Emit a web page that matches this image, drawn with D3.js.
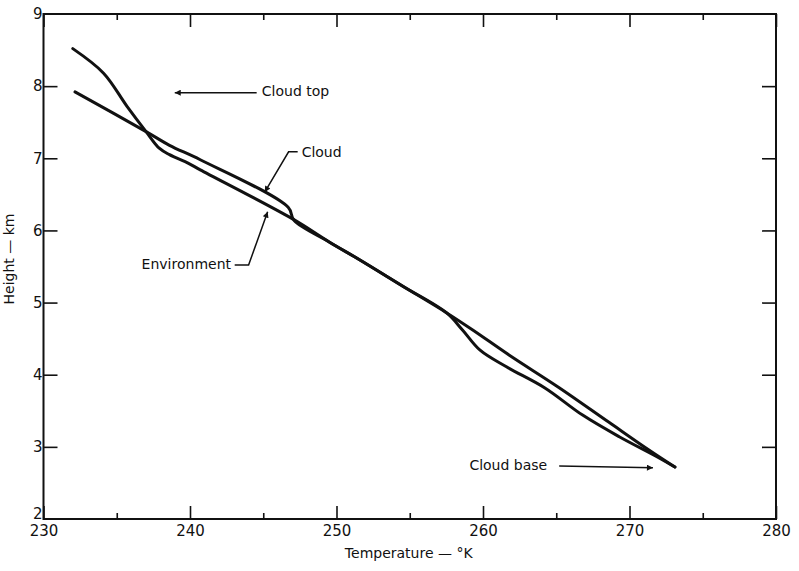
<!DOCTYPE html>
<html><head><meta charset="utf-8">
<script src="https://cdn.jsdelivr.net/npm/d3@7"></script>
<style>
html,body{margin:0;padding:0;background:#fff;}
text{font-family:"DejaVu Sans",sans-serif;fill:#111;}
</style>
</head><body>
<svg id="chart" width="799" height="571"></svg>
<script>
// ---- data ----
const envT   = [232.0, 234.1, 235.7, 237.0, 237.9, 238.6, 239.9, 240.7, 247.0, 249.5, 251.6, 254.5, 257.5, 258.6, 259.8, 261.6, 264.2, 266.8, 269.3, 271.9, 273.1];
const envH   = [8.52, 8.18, 7.72, 7.37, 7.14, 7.05, 6.93, 6.84, 6.16, 5.84, 5.59, 5.23, 4.86, 4.62, 4.34, 4.11, 3.82, 3.44, 3.14, 2.86, 2.72];
const cloudT = [232.15, 237.0, 238.6, 240.7, 246.7, 247.1, 249.5, 251.6, 254.5, 257.5, 259.3, 261.8, 265.2, 268.6, 271.3, 273.1];
const cloudH = [7.92, 7.37, 7.18, 6.98, 6.32, 6.14, 5.84, 5.59, 5.23, 4.86, 4.62, 4.27, 3.82, 3.34, 2.96, 2.72];
const xTicks = [230, 240, 250, 260, 270, 280];
const xMinorTicks = [235, 245, 255, 265, 275];
const yTicks = [2, 3, 4, 5, 6, 7, 8, 9];
const xTitle = "Temperature — °K";
const yTitle = "Height — km";
// annotations: label, text anchor point [T,H], anchor side, leader path in data coords (last point = arrow tip)
const annLabels = ["Cloud top", "Cloud", "Environment", "Cloud base"];
const annText   = [[244.9, 7.93], [247.62, 7.09], [242.8, 5.53], [259.07, 2.75]];
const annAnchor = ["start", "start", "end", "start"];
const annPaths  = [
  [[244.55, 7.91], [238.96, 7.91]],
  [[247.35, 7.09], [246.73, 7.09], [245.1, 6.53]],
  [[243.05, 5.52], [244.0, 5.52], [245.3, 6.26]],
  [[265.2, 2.735], [271.6, 2.71]]
];

// ---- chart ----
const svg = d3.select("#chart");
const x = d3.scaleLinear().domain([230, 280]).range([43.5, 776]);
const y = d3.scaleLinear().domain([2, 9]).range([519, 14]);

// frame
svg.append("rect")
  .attr("x", x(230)).attr("y", y(9))
  .attr("width", x(280) - x(230)).attr("height", y(2) - y(9))
  .attr("fill", "none").attr("stroke", "#111").attr("stroke-width", 2);

function styleAxis(g){
  g.select(".domain").remove();
  g.selectAll(".tick line").attr("stroke", "#111").attr("stroke-width", 1.6);
  g.selectAll(".tick text").attr("font-size", 15).attr("fill", "#111")
    .style("font-family", '"DejaVu Sans",sans-serif');
}

// bottom axis (ticks inward)
svg.append("g").attr("transform", `translate(0,${y(2)})`)
  .call(d3.axisBottom(x).tickValues(xTicks).tickSizeInner(-13).tickSizeOuter(0).tickFormat(d3.format("d")))
  .call(styleAxis)
  .call(g => g.selectAll(".tick text").attr("dy", "0.71em").attr("y", 6));
svg.append("g").attr("transform", `translate(0,${y(2)})`)
  .call(d3.axisBottom(x).tickValues(xMinorTicks).tickSizeInner(-6).tickSizeOuter(0).tickFormat(""))
  .call(styleAxis);
// top axis
svg.append("g").attr("transform", `translate(0,${y(9)})`)
  .call(d3.axisTop(x).tickValues(xTicks).tickSizeInner(-13).tickSizeOuter(0).tickFormat(""))
  .call(styleAxis);
svg.append("g").attr("transform", `translate(0,${y(9)})`)
  .call(d3.axisTop(x).tickValues(xMinorTicks).tickSizeInner(-6).tickSizeOuter(0).tickFormat(""))
  .call(styleAxis);
// left axis
svg.append("g").attr("transform", `translate(${x(230)},0)`)
  .call(d3.axisLeft(y).tickValues(yTicks).tickSizeInner(-14).tickSizeOuter(0).tickFormat(d3.format("d")))
  .call(styleAxis)
  .call(g => g.selectAll(".tick text").attr("x", -1).attr("dy", d => d === 2 ? "-0.02em" : "0.32em"))
  .call(g => g.selectAll(".tick line").filter(d => d === 2 || d === 9).remove());
// right axis
svg.append("g").attr("transform", `translate(${x(280)},0)`)
  .call(d3.axisRight(y).tickValues(yTicks.filter(d => d !== 2 && d !== 9)).tickSizeInner(-14).tickSizeOuter(0).tickFormat(""))
  .call(styleAxis);

// axis titles
svg.append("text")
  .attr("x", (x(230) + x(280)) / 2 - 1).attr("y", 558)
  .attr("text-anchor", "middle").attr("font-size", 14).text(xTitle);
svg.append("text")
  .attr("transform", `translate(14,${259}) rotate(-90)`)
  .attr("text-anchor", "middle").attr("font-size", 14).text(yTitle);

// curves
const line = d3.line().x(d => x(d[0])).y(d => y(d[1])).curve(d3.curveCatmullRom.alpha(0.5));
const envData = envT.map((t, i) => [t, envH[i]]);
const cloudData = cloudT.map((t, i) => [t, cloudH[i]]);
[envData, cloudData].forEach(d => {
  svg.append("path").datum(d).attr("d", line)
    .attr("fill", "none").attr("stroke", "#111").attr("stroke-width", 3)
    .attr("stroke-linejoin", "round").attr("stroke-linecap", "round");
});

// annotations
const defs = svg.append("defs");
defs.append("marker").attr("id", "arr").attr("viewBox", "0 0 10 10")
  .attr("refX", 10).attr("refY", 5).attr("markerWidth", 10).attr("markerHeight", 6)
  .attr("markerUnits", "userSpaceOnUse").attr("orient", "auto")
  .append("path").attr("d", "M0,0 L10,5 L0,10 Z").attr("fill", "#111");

const plain = d3.line().x(d => x(d[0])).y(d => y(d[1]));
annLabels.forEach((lab, i) => {
  svg.append("text")
    .attr("x", x(annText[i][0])).attr("y", y(annText[i][1]))
    .attr("dy", "0.35em").attr("text-anchor", annAnchor[i])
    .attr("font-size", 14).text(lab);
  svg.append("path").datum(annPaths[i]).attr("d", plain)
    .attr("fill", "none").attr("stroke", "#111").attr("stroke-width", 1.5)
    .attr("marker-end", "url(#arr)");
});
</script>
</body></html>
